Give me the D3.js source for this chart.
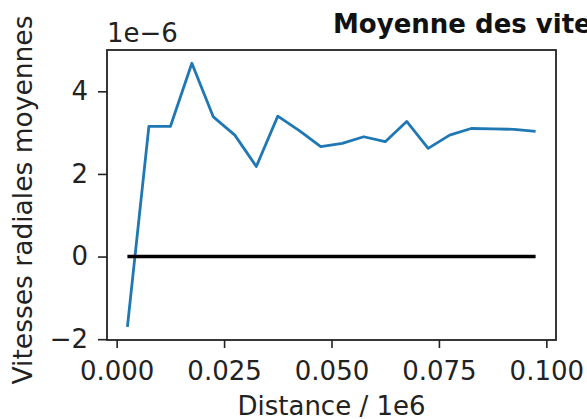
<!DOCTYPE html>
<html>
<head>
<meta charset="utf-8">
<script src="https://cdn.jsdelivr.net/npm/d3@7"></script>
<style>
    body { margin: 0; background: #fff; overflow: hidden; }
    svg { display: block; font-family: "DejaVu Sans", sans-serif; }
</style>
</head>
<body>
<div id="chart"></div>
<script>
// distances (in units of 1e6) and mean radial velocities (in units of 1e-6)
var distances = [0.0025, 0.0075, 0.0125, 0.0175, 0.0225, 0.0275, 0.0325, 0.0375, 0.0425, 0.0475,
                 0.0525, 0.0575, 0.0625, 0.0675, 0.0725, 0.0775, 0.0825, 0.0875, 0.0925, 0.0975];
var vitesses = [-1.70, 3.15, 3.15, 4.68, 3.38, 2.94, 2.18, 3.40, 3.05, 2.66,
                2.74, 2.90, 2.78, 3.27, 2.62, 2.94, 3.10, 3.09, 3.08, 3.03];
var zeroLine = [0, 0, 0, 0, 0, 0, 0, 0, 0, 0, 0, 0, 0, 0, 0, 0, 0, 0, 0, 0];
var xTicks = [0, 0.025, 0.05, 0.075, 0.1];
var yTicks = [-2, 0, 2, 4];

var width = 587, height = 419;
var plotLeft = 107, plotRight = 556, plotTop = 50, plotBottom = 340;

var svg = d3.select("#chart").append("svg")
    .attr("width", width)
    .attr("height", height);

var x = d3.scaleLinear().domain([-0.00225, 0.10225]).range([plotLeft, plotRight]);
var y = d3.scaleLinear().domain([-2.02, 5.0]).range([plotBottom, plotTop]);

var line = d3.line()
    .x(function(d) { return x(d[0]); })
    .y(function(d) { return y(d[1]); });

// mean velocities
svg.append("path")
    .datum(d3.zip(distances, vitesses))
    .attr("d", line)
    .attr("fill", "none")
    .attr("stroke", "#1f77b4")
    .attr("stroke-width", 2.8)
    .attr("stroke-linejoin", "round");

// zero reference
svg.append("path")
    .datum(d3.zip(distances, zeroLine))
    .attr("d", line)
    .attr("fill", "none")
    .attr("stroke", "#000")
    .attr("stroke-width", 3.4);

// axes
var xAxis = svg.append("g")
    .attr("transform", "translate(0," + plotBottom + ")")
    .call(d3.axisBottom(x).tickValues(xTicks).tickFormat(d3.format(".3f")).tickSizeOuter(0).tickSize(8).tickPadding(14));
var yAxis = svg.append("g")
    .attr("transform", "translate(" + plotLeft + ",0)")
    .call(d3.axisLeft(y).tickValues(yTicks).tickFormat(function(d) { return d < 0 ? "\u2212" + Math.abs(d) : d; }).tickSizeOuter(0).tickSize(9).tickPadding(10));

[xAxis, yAxis].forEach(function(a) {
    a.select(".domain").remove();
    a.selectAll("line").attr("stroke", "#222").attr("stroke-width", 1.6);
    a.selectAll("text").attr("fill", "#222").style("font-size", "26px").style("font-family", "DejaVu Sans");
});

// frame
svg.append("rect")
    .attr("x", plotLeft).attr("y", plotTop)
    .attr("width", plotRight - plotLeft).attr("height", plotBottom - plotTop)
    .attr("fill", "none")
    .attr("stroke", "#222")
    .attr("stroke-width", 1.8);

// offset text
svg.append("text")
    .attr("x", plotLeft).attr("y", 42)
    .attr("fill", "#222")
    .style("font-size", "26px")
    .text("1e\u22126");

// labels
svg.append("text")
    .attr("x", (plotLeft + plotRight) / 2).attr("y", 415)
    .attr("text-anchor", "middle")
    .attr("fill", "#222")
    .style("font-size", "26px")
    .text("Distance / 1e6");

svg.append("text")
    .attr("transform", "translate(32," + 200 + ") rotate(-90)")
    .attr("text-anchor", "middle")
    .attr("fill", "#222")
    .style("font-size", "26.5px")
    .text("Vitesses radiales moyennes");

// title (cut off by the edge of the picture)
svg.append("text")
    .attr("x", 333).attr("y", 33)
    .attr("fill", "#111")
    .style("font-size", "26px")
    .style("font-weight", "bold")
    .text("Moyenne des vitesses radiales");
</script>
</body>
</html>
